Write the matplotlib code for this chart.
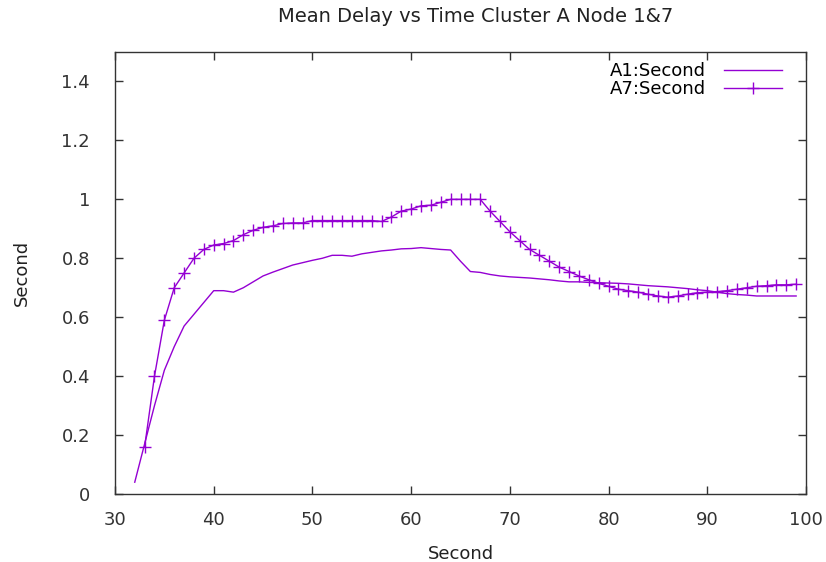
import matplotlib
matplotlib.use("Agg")
import matplotlib.pyplot as plt

x_a1 = list(range(32, 100))
a1 = [0.04, 0.17, 0.30, 0.42, 0.50, 0.57, 0.61, 0.65, 0.69, 0.69,
      0.685, 0.70, 0.72, 0.74, 0.753, 0.765, 0.777, 0.785, 0.793, 0.80,
      0.81, 0.81, 0.807, 0.815, 0.82, 0.825, 0.828, 0.832, 0.833, 0.836,
      0.833, 0.83, 0.828, 0.79, 0.755, 0.752, 0.745, 0.74, 0.737, 0.735,
      0.733, 0.73, 0.727, 0.723, 0.72, 0.72, 0.718, 0.717, 0.716, 0.715,
      0.713, 0.71, 0.707, 0.705, 0.703, 0.70, 0.697, 0.693, 0.69, 0.685,
      0.68, 0.677, 0.675, 0.672, 0.672, 0.672, 0.672, 0.672]

x_a7 = list(range(33, 100))
a7 = [0.16, 0.40, 0.59, 0.70, 0.75, 0.80, 0.83, 0.845, 0.85, 0.86,
      0.88, 0.895, 0.905, 0.91, 0.918, 0.92, 0.92, 0.928, 0.928, 0.928,
      0.928, 0.928, 0.928, 0.928, 0.925, 0.94, 0.96, 0.967, 0.978, 0.98,
      0.99, 1.0, 1.0, 1.0, 1.0, 0.96, 0.925, 0.89, 0.86, 0.83,
      0.81, 0.79, 0.77, 0.755, 0.74, 0.727, 0.715, 0.705, 0.695, 0.69,
      0.685, 0.678, 0.672, 0.668, 0.672, 0.678, 0.683, 0.685, 0.687, 0.69,
      0.695, 0.70, 0.705, 0.707, 0.71, 0.71, 0.712]

xticks = [30, 40, 50, 60, 70, 80, 90, 100]
yticks = [0, 0.2, 0.4, 0.6, 0.8, 1.0, 1.2, 1.4]
ytick_labels = ["0", "0.2", "0.4", "0.6", "0.8", "1", "1.2", "1.4"]

color = "#9400d3"
plt.rcParams['font.family'] = ['DejaVu Sans']

fig = plt.figure(figsize=(8.26, 5.62), dpi=100)
ax = fig.add_axes([115/826, 1 - 494/562, (806 - 115)/826, (494 - 52)/562])

ax.plot(x_a1, a1, color=color, lw=1.0, label="A1:Second")
ax.plot(x_a7, a7, color=color, lw=1.0, marker="+", markersize=8, markeredgewidth=1.0,
        label="A7:Second")

ax.set_xlim(30, 100)
ax.set_ylim(0, 1.5)
ax.set_xticks(xticks)
ax.set_yticks(yticks)
ax.set_yticklabels(ytick_labels)
ax.tick_params(direction="in", top=True, right=True, length=6, width=1,
               labelsize=13, colors="#333333")
ax.tick_params(axis="y", pad=18)
ax.tick_params(axis="x", pad=12)
for s in ax.spines.values():
    s.set_color("#333333")
    s.set_linewidth(1)

ax.set_xlabel("Second", fontsize=13, color="#222222", labelpad=12)
ax.set_ylabel("Second", fontsize=13, color="#222222", labelpad=22)
fig.text(476/826, 1 - 17/562, "Mean Delay vs Time Cluster A Node 1&7",
         ha="center", va="center", fontsize=14, color="#222222")

leg = ax.legend(loc="upper right", frameon=False, fontsize=13,
                markerfirst=False, handlelength=3.2, handletextpad=1.0,
                borderaxespad=0.0, labelspacing=0.0, bbox_to_anchor=(0.975, 0.994))

fig.savefig("out.png", dpi=100)
